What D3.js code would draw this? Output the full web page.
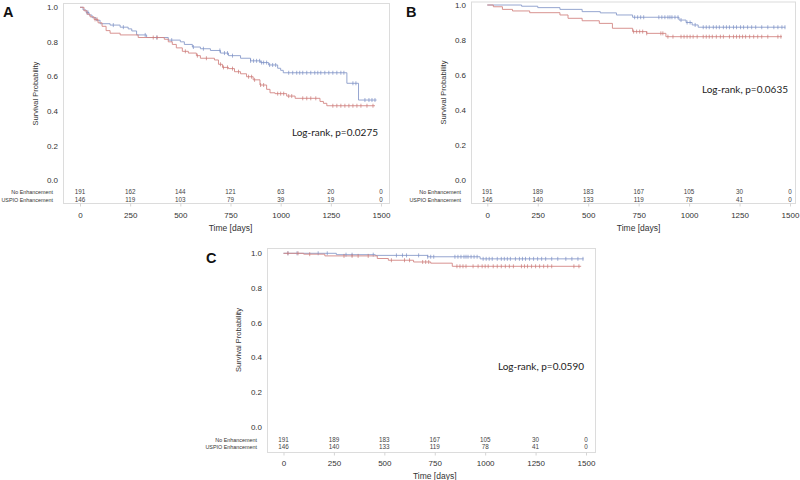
<!DOCTYPE html>
<html><head><meta charset="utf-8">
<script src="https://cdn.jsdelivr.net/npm/d3@7"></script>
<style>body{margin:0;background:#fff}svg{display:block}</style>
</head><body>
<svg id="c" width="800" height="480"></svg>
<script>
// ---------- data ----------
const groups = ["No Enhancement", "USPIO Enhancement"];
const xTicks = [0, 250, 500, 750, 1000, 1250, 1500];
const yTicks = [0.0, 0.2, 0.4, 0.6, 0.8, 1.0];
const pValues = ["Log-rank, p=0.0275", "Log-rank, p=0.0635", "Log-rank, p=0.0590"];
const panelNames = ["A", "B", "C"];

// Panel A
const aBlueT = [0,15,30,45,60,80,100,150,200,240,258,282,332,440,500,520,560,600,650,700,740,800,850,900,940,985,1000,1013,1330,1388];
const aBlueS = [1,0.985,0.97,0.955,0.94,0.925,0.905,0.897,0.885,0.875,0.863,0.84,0.825,0.81,0.80,0.785,0.77,0.76,0.75,0.735,0.72,0.705,0.69,0.68,0.666,0.647,0.635,0.621,0.56,0.463];
const aBlueEnd = 1478;
const aRedT = [0,20,35,50,70,90,110,130,150,200,290,420,440,460,480,510,540,580,600,670,690,710,740,770,800,830,863,897,930,947,972,1030,1072,1196,1213,1230];
const aRedS = [1,0.98,0.96,0.945,0.93,0.91,0.89,0.865,0.85,0.84,0.825,0.815,0.80,0.785,0.765,0.745,0.735,0.72,0.705,0.695,0.67,0.652,0.645,0.627,0.615,0.598,0.58,0.55,0.525,0.505,0.50,0.486,0.473,0.455,0.444,0.43];
const aRedEnd = 1470;
const aBlueCens = [35,40,166,216,325,382,457,565,615,697,720,735,760,850,865,880,895,905,915,930,945,960,975,1040,1060,1080,1095,1110,1130,1150,1170,1185,1200,1220,1240,1260,1280,1300,1315,1360,1375,1420,1440,1455,1470];
const aRedCens = [75,85,365,385,525,585,630,700,715,735,760,790,840,855,870,900,915,985,1000,1015,1040,1055,1110,1130,1150,1175,1260,1280,1300,1320,1340,1360,1380,1400,1430,1460];
const aRiskBlue = [191,162,144,121,63,20,0];
const aRiskRed = [146,119,103,79,39,19,0];

// Panel B
const bBlueT = [0,170,250,360,470,560,640,720,950,985,1015,1045];
const bBlueS = [1,0.993,0.985,0.975,0.962,0.955,0.943,0.93,0.914,0.90,0.886,0.873];
const bBlueEnd = 1477;
const bRedT = [0,30,75,125,210,360,400,470,555,620,720,790,885];
const bRedS = [1,0.99,0.975,0.966,0.956,0.943,0.924,0.91,0.895,0.867,0.848,0.838,0.819];
const bRedEnd = 1460;
const bBlueCens = [730,745,760,775,850,865,880,895,905,915,930,945,960,990,1005,1030,1070,1085,1100,1120,1135,1150,1170,1185,1200,1220,1235,1255,1270,1290,1310,1330,1360,1390,1420,1440,1460,1475];
const bRedCens = [725,740,755,770,790,860,870,895,920,960,975,990,1005,1020,1040,1070,1085,1100,1115,1135,1155,1170,1200,1220,1235,1250,1265,1280,1300,1320,1340,1360,1390,1440,1455];
const bRiskBlue = [191,189,183,167,105,30,0];
const bRiskRed = [146,140,133,119,78,41,0];

// Panel C
const cBlueT = [0,262,455,715,975];
const cBlueS = [1,0.992,0.988,0.98,0.968];
const cBlueEnd = 1488;
const cRedT = [0,100,205,465,520,645,730,837];
const cRedS = [1,0.995,0.985,0.97,0.96,0.95,0.943,0.925];
const cRedEnd = 1476;
const cBlueCens = [22,67,172,217,310,340,445,560,590,610,670,715,730,745,850,865,880,895,905,915,930,945,960,990,1005,1020,1035,1060,1080,1095,1110,1125,1150,1170,1185,1200,1220,1240,1260,1280,1300,1330,1360,1400,1430,1460,1485];
const cRedCens = [22,72,130,300,340,370,420,535,600,625,690,705,720,860,875,890,905,940,965,985,1000,1015,1040,1060,1080,1100,1120,1140,1180,1195,1210,1230,1250,1270,1290,1310,1330,1440,1465];
const cRiskBlue = [191,189,183,167,105,30,0];
const cRiskRed = [146,140,133,119,78,41,0];

// ---------- layout ----------
const panels = [
  {name:panelNames[0], p:pValues[0], frame:[63,3,389,203], xr:[80,381], yr:[180,7.3], riskY:[194,201.5], riskLX:53, yTitleX:35, letter:[3,17], pPos:[378,136], tickBase:218, titleBase:231,
   blue:[aBlueT,aBlueS,aBlueEnd,aBlueCens], red:[aRedT,aRedS,aRedEnd,aRedCens], risk:[aRiskBlue,aRiskRed]},
  {name:panelNames[1], p:pValues[1], frame:[471,1.5,795,203], xr:[487.3,790], yr:[180,5], riskY:[193.5,201.5], riskLX:461, yTitleX:443, letter:[406,17], pPos:[788,93], tickBase:218, titleBase:231,
   blue:[bBlueT,bBlueS,bBlueEnd,bBlueCens], red:[bRedT,bRedS,bRedEnd,bRedCens], risk:[bRiskBlue,bRiskRed]},
  {name:panelNames[2], p:pValues[2], frame:[267,248,595,452], xr:[283.5,586], yr:[426.7,253.3], riskY:[441.5,449], riskLX:257, yTitleX:238, letter:[206,263], pPos:[584,370], tickBase:466, titleBase:478.5,
   blue:[cBlueT,cBlueS,cBlueEnd,cBlueCens], red:[cRedT,cRedS,cRedEnd,cRedCens], risk:[cRiskBlue,cRiskRed]}
];

const BLUE = "#8a9ccb", BLUE_D = "#7a8ec4";
const RED = "#d48784", RED_D = "#c97774";
const FONT = "'Liberation Sans', Arial, sans-serif";

const svg = d3.select("#c");

function stepVal(T, S, t){
  let v = S[0];
  for (let i=0;i<T.length;i++){ if (T[i] <= t) v = S[i]; }
  return v;
}

panels.forEach(pn => {
  const g = svg.append("g");
  const [fx0, fy0, fx1, fy1] = pn.frame;
  const x = d3.scaleLinear().domain([0,1500]).range(pn.xr);
  const y = d3.scaleLinear().domain([0,1]).range(pn.yr);

  g.append("rect").attr("x",fx0+0.5).attr("y",fy0+0.5).attr("width",fx1-fx0).attr("height",fy1-fy0)
    .attr("fill","none").attr("stroke","#dcdcdc").attr("stroke-width",1);

  // x axis
  const xa = g.append("g").attr("transform",`translate(0,${fy1+0.5})`)
    .call(d3.axisBottom(x).tickValues(xTicks).tickSize(3).tickPadding(pn.tickBase-fy1-3-5.7).tickFormat(d3.format("d")));
  xa.select(".domain").remove();
  xa.selectAll("line").attr("stroke","#d5d5d5");
  xa.selectAll("text").attr("font-family",FONT).attr("font-size",8).attr("fill","#333");

  // y axis
  const ya = g.append("g").attr("transform",`translate(${fx0},0)`)
    .call(d3.axisLeft(y).tickValues(yTicks).tickSize(0).tickPadding(5).tickFormat(d3.format(".1f")));
  ya.select(".domain").remove();
  ya.selectAll("text").attr("font-family",FONT).attr("font-size",8).attr("fill","#333");

  // titles
  g.append("text").attr("x",(pn.xr[0]+pn.xr[1])/2).attr("y",pn.titleBase).attr("text-anchor","middle")
    .attr("font-family",FONT).attr("font-size",8.5).attr("fill","#333").text("Time [days]");
  const ymid = (pn.yr[0]+pn.yr[1])/2;
  g.append("text").attr("transform",`translate(${pn.yTitleX+2.7},${ymid}) rotate(-90)`).attr("text-anchor","middle")
    .attr("font-family",FONT).attr("font-size",7.5).attr("fill","#333").text("Survival Probability");
  g.append("text").attr("x",pn.letter[0]).attr("y",pn.letter[1]).attr("font-family",FONT)
    .attr("font-weight","bold").attr("font-size",14.5).attr("fill","#111").text(pn.name);
  g.append("text").attr("x",pn.pPos[0]).attr("y",pn.pPos[1]).attr("text-anchor","end")
    .attr("font-family","Lato, 'Open Sans', sans-serif").attr("font-size",10).attr("fill","#222").text(pn.p);

  // number at risk
  groups.forEach((gr,i) => {
    g.append("text").attr("x",pn.riskLX).attr("y",pn.riskY[i]).attr("text-anchor","end")
      .attr("font-family",FONT).attr("font-size",5.4).attr("fill","#333").text(gr);
    g.selectAll(null).data(pn.risk[i]).enter().append("text")
      .attr("x",(d,j)=>x(xTicks[j])).attr("y",pn.riskY[i]).attr("text-anchor","middle")
      .attr("font-family",FONT).attr("font-size",6.3).attr("fill","#444").text(d=>d);
  });

  // curves
  [[pn.blue,BLUE,BLUE_D],[pn.red,RED,RED_D]].forEach(([ser,col,dcol]) => {
    const [T,S,end,cens] = ser;
    const pts = T.map((t,i)=>[t,S[i]]);
    pts.push([end,S[S.length-1]]);
    const line = d3.line().x(d=>x(d[0])).y(d=>y(d[1])).curve(d3.curveStepAfter);
    g.append("path").attr("d",line(pts)).attr("fill","none").attr("stroke",col).attr("stroke-width",0.9);
    g.selectAll(null).data(cens).enter().append("line")
      .attr("x1",d=>x(d)).attr("x2",d=>x(d))
      .attr("y1",d=>y(stepVal(T,S,d))-2).attr("y2",d=>y(stepVal(T,S,d))+2)
      .attr("stroke",dcol).attr("stroke-width",0.7);
  });
});
</script>
</body></html>
